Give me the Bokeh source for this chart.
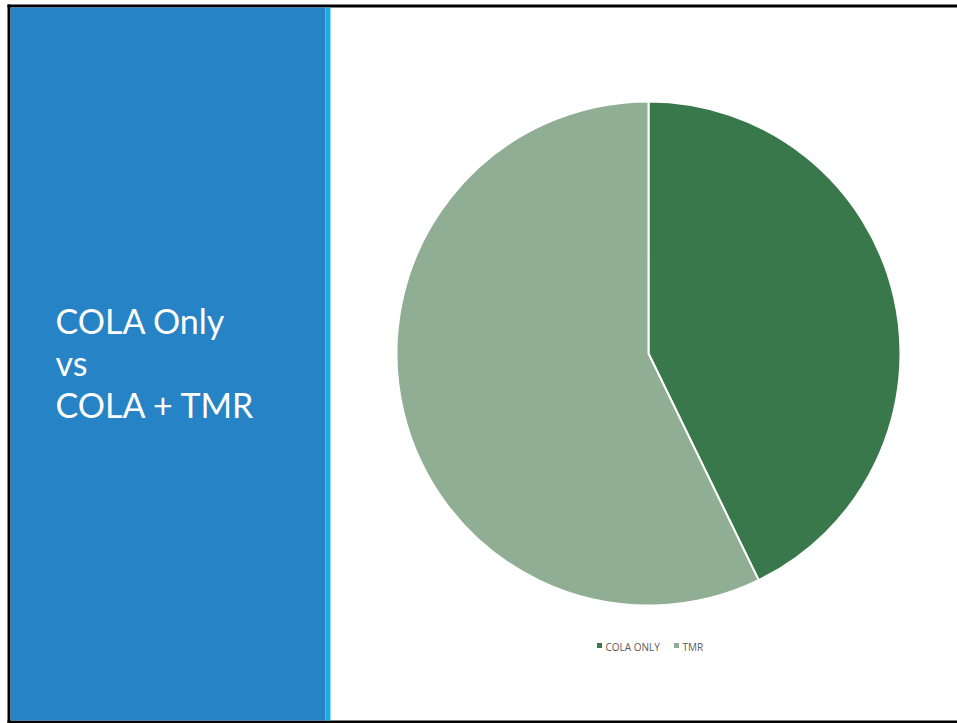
import math
from bokeh.plotting import figure
from bokeh.models import Range1d, ColumnDataSource
from bokeh.core.properties import value
from bokeh.embed import file_html
from bokeh.resources import INLINE

# data
categories = ["COLA ONLY", "TMR"]
shares = [42.8, 57.2]
colors = ["#38784A", "#8FAE94"]
title_lines = ["COLA Only", "vs", "COLA + TMR"]

W, H = 957, 723
IMG_H = 723

def Y(y_img):
    return IMG_H - y_img

p = figure(width=W, height=H, output_backend="svg", toolbar_location=None,
           x_range=Range1d(0, W), y_range=Range1d(0, H),
           min_border=0)
p.axis.visible = False
p.grid.visible = False
p.outline_line_color = None
p.background_fill_color = "white"
p.border_fill_color = "white"

# frame and left panel
p.quad(left=[7], right=[957], bottom=[Y(7)], top=[Y(4)], color="black", line_color=None)
p.quad(left=[7], right=[957], bottom=[Y(723)], top=[Y(720)], color="black", line_color=None)
p.quad(left=[7], right=[10], bottom=[Y(723)], top=[Y(4)], color="black", line_color=None)
p.quad(left=[10], right=[325], bottom=[Y(720)], top=[Y(7)], color="#2683C6", line_color=None)
p.quad(left=[325], right=[330], bottom=[Y(720)], top=[Y(7)], color="#1CADE4", line_color=None)

# title
baselines = [320, 362, 404]
p.text(x=[55] * 3, y=[Y(b) for b in baselines], text=title_lines,
       text_font=value("Lato"), text_font_size="34px", text_color="white",
       text_baseline="alphabetic", text_align="left")

# pie
total = sum(shares)
starts, ends = [], []
cum = 0.0
for s in shares:
    starts.append(math.pi / 2 - 2 * math.pi * cum / total)
    cum += s
    ends.append(math.pi / 2 - 2 * math.pi * cum / total)
src = ColumnDataSource(dict(cat=categories, share=shares, start=starts, end=ends, color=colors))
p.wedge(x=648, y=Y(353), radius=252, start_angle="start", end_angle="end",
        direction="clock", fill_color="color", line_color="white", line_width=2, source=src)

# legend
p.scatter(x=[599, 676], y=[Y(645), Y(645)], marker="square", size=5,
          color=colors, line_color=None)
p.text(x=[605, 682], y=[Y(646), Y(646)], text=categories,
       text_font=value("Open Sans"), text_font_size="10px", text_color="#595959",
       text_baseline="alphabetic", text_align="left")

open("out.html", "w").write(file_html(p, INLINE))
